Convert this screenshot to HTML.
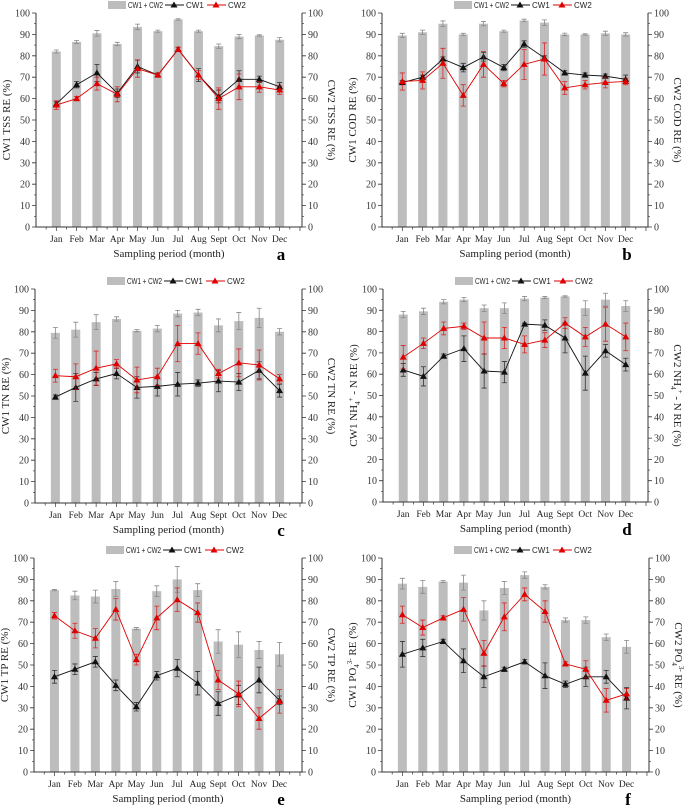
<!DOCTYPE html>
<html><head><meta charset="utf-8"><style>
html,body{margin:0;padding:0;background:#fff;}
svg{display:block;}
text{font-family:"Liberation Serif",serif;}
.lg{font-family:"Liberation Sans",sans-serif;font-size:8px;}
</style></head><body>
<svg id="fig" width="685" height="806" viewBox="0 0 685 806" xmlns="http://www.w3.org/2000/svg"></svg>
<script>
const months = ["Jan","Feb","Mar","Apr","May","Jun","Jul","Aug","Sept","Oct","Nov","Dec"];
const yTicks = [0,10,20,30,40,50,60,70,80,90,100];
// panel a TSS
const aBar=[82,86.5,90.5,85.5,93.5,91.5,97,91.5,84.5,89,89.5,87.5];
const aBarErr=[0.7,0.7,1.3,0.8,1.3,0.5,0.3,0.5,1,1,0.3,1];
const aCw1=[57.5,66.5,72,62.5,75,71,83,71,61,69,69,65.5];
const aCw1Err=[1,1.5,4,2,3,1,1,3,3,4,1.5,2];
const aCw2=[57,60,67,62,74,71,83,71,60,65.5,65.5,64];
const aCw2Err=[2,1,3,3.5,4,1,1,2,5,6,2.5,2];
// panel b COD
const bBar=[89.5,91,95,90,95,91.5,96.5,95.5,90,90,90.5,90];
const bBarErr=[1,1,1.3,0.5,1,0.5,0.6,1.3,0.6,0.3,1,0.8];
const bCw1=[67.5,70,78.5,74.5,79.5,74.5,85.5,79,72,71,70.5,69];
const bCw1Err=[1,1,1,2,2,1.5,1.5,1,1,1,1,2];
const bCw2=[68,68.5,76.5,61.5,76,67,76,78.5,65,66.5,67.5,68];
const bCw2Err=[4,4,7,5,6,1.5,7,7.5,3,2,2.5,1.5];
// panel c TN
const cBar=[79.5,81,84.5,86,80.5,81.5,88.5,89,83,85,86.5,80];
const cBarErr=[2.5,3.5,3.5,1,0.5,1.5,1.5,1.5,3,4,4.5,1.5];
const cCw1=[49.5,54,58,60.5,54,54.5,55.5,56,57,56.5,62,52.5];
const cCw1Err=[1,6.5,3,2.5,5,4.5,5.5,1.5,5,4,4,3];
const cCw2=[59.5,59,63,65,57.5,59,74.5,74.5,60.5,65.5,64.5,58];
const cCw2Err=[3,6,8,2,6,4,8.5,5,2,6.5,7,2];
// panel d NH4-N
const dBar=[88,89.5,94,95,91,91,95.5,96,96.5,91,95,92];
const dBarErr=[1.5,1.5,1,1,1.5,2.5,1,0.5,0.3,3.5,3,2.5];
const dCw1=[62,59,68.5,72,61.5,61,83.5,83,77,60.5,71,64.5];
const dCw1Err=[3,4.5,1,6,8,5,0.5,2.5,7,8,3,3];
const dCw2=[68,74.5,81.5,82.5,77,77,74,76,84,77.5,83.5,77.5];
const dCw2Err=[5.5,2.5,3,1.5,7.5,5,4,3.5,2.5,4.5,8,6.5];
// panel e TP
const eBar=[85,82.5,82,85.5,67,84.5,90,85,61,59.5,57,55];
const eBarErr=[0.3,2,3,3.5,0.5,2.5,6,3,5.5,6,4,5.5];
const eCw1=[44.5,48,51.5,40.5,30.5,45,48.5,41.5,32,36,43,33.5];
const eCw1Err=[3,2.5,2.5,2.5,2,2,4,5.5,5.5,4.5,6,2];
const eCw2=[73,66,62.5,76,52.5,72,80.5,74.5,43,36.5,25,33];
const eCw2Err=[1.5,3.5,4.5,5,2.5,5.5,5.5,4.5,4.5,6,5,5.5];
// panel f PO4
const fBar=[88,86.5,89,88.5,75.5,86,92,86.5,71,71,63,58.5];
const fBarErr=[2.5,3,0.5,3.5,4.5,3,1.5,1,1,1.5,1.5,3];
const fCw1=[55,58,61,52,44.5,48,51.5,45,41,44.5,44.5,34.5];
const fCw1Err=[6,4,1,5.5,5,1,1,6,1.5,4.5,3,5];
const fCw2=[73.5,67.5,72,76,55.5,72.5,83,75,50.5,48,33.5,36.5];
const fCw2Err=[4,3.5,1,5.5,6,6.5,3,5,1,4,5.5,2.5];

const panels=[
 {id:'a',L:36,R:302,T:13,B:227,bar:aBar,be:aBarErr,c1:aCw1,e1:aCw1Err,c2:aCw2,e2:aCw2Err,yl:'CW1 TSS RE (%)',yr:'CW2 TSS RE (%)'},
 {id:'b',L:382,R:648,T:13,B:227,bar:bBar,be:bBarErr,c1:bCw1,e1:bCw1Err,c2:bCw2,e2:bCw2Err,yl:'CW1 COD RE (%)',yr:'CW2 COD RE (%)'},
 {id:'c',L:35,R:302,T:289,B:503,bar:cBar,be:cBarErr,c1:cCw1,e1:cCw1Err,c2:cCw2,e2:cCw2Err,yl:'CW1 TN RE (%)',yr:'CW2 TN RE (%)'},
 {id:'d',L:383,R:648,T:289,B:502,bar:dBar,be:dBarErr,c1:dCw1,e1:dCw1Err,c2:dCw2,e2:dCw2Err,yl:'CW1 NH<tspan font-size="7" dy="3">4</tspan><tspan font-size="7" dy="-7">+</tspan><tspan dy="4"> - N RE (%)</tspan>',yr:'CW2 NH<tspan font-size="7" dy="3">4</tspan><tspan font-size="7" dy="-7">+</tspan><tspan dy="4"> - N RE (%)</tspan>'},
 {id:'e',L:34,R:302,T:558,B:772,bar:eBar,be:eBarErr,c1:eCw1,e1:eCw1Err,c2:eCw2,e2:eCw2Err,yl:'CW1 TP RE (%)',yr:'CW2 TP RE (%)'},
 {id:'f',L:382,R:649,T:558,B:772,bar:fBar,be:fBarErr,c1:fCw1,e1:fCw1Err,c2:fCw2,e2:fCw2Err,yl:'CW1 PO<tspan font-size="7" dy="3">4</tspan><tspan font-size="7" dy="-7">3-</tspan><tspan dy="4"> RE (%)</tspan>',yr:'CW2 PO<tspan font-size="7" dy="3">4</tspan><tspan font-size="7" dy="-7">3-</tspan><tspan dy="4"> RE (%)</tspan>'}
];
const NS='http://www.w3.org/2000/svg';
const svg=document.getElementById('fig');
function mk(tag,attrs,parent,html){const e=document.createElementNS(NS,tag);for(const k in attrs)e.setAttribute(k,attrs[k]);if(html!==undefined)e.innerHTML=html;parent.appendChild(e);return e;}
function tri(x,y,col,g){return mk('polygon',{points:`${x},${y-3.5} ${x-3.5},${y+2.5} ${x+3.5},${y+2.5}`,fill:col},g);}
panels.forEach(p=>{
 const g=mk('g',{},svg);
 
 
 const sx=i=>p.L+(i+1)*(p.R-p.L)/13.1;
 const sy=v=>p.B-v*(p.B-p.T)/100;
 p.bar.forEach((v,i)=>{
  const r=mk('rect',{x:sx(i)-4.5,y:sy(v),width:9,height:p.B-sy(v),fill:'#bdbdbd'},g);
  
  
  const x=sx(i);
  mk('path',{d:`M${x},${sy(v+p.be[i])}V${sy(v-p.be[i])}M${x-2.5},${sy(v+p.be[i])}H${x+2.5}M${x-2.5},${sy(v-p.be[i])}H${x+2.5}`,stroke:'#888','stroke-width':0.8,fill:'none'},g);
 });
 [[p.c1,p.e1,'#111','cw1'],[p.c2,p.e2,'#e00000','cw2']].forEach(([vals,errs,col,nm])=>{
  const pl=mk('polyline',{points:vals.map((v,i)=>sx(i)+','+sy(v)).join(' '),fill:'none',stroke:col,'stroke-width':0.9},g);
  
  
  vals.forEach((v,i)=>{
   const x=sx(i);
   mk('path',{d:`M${x},${sy(v+errs[i])}V${sy(v-errs[i])}M${x-2.5},${sy(v+errs[i])}H${x+2.5}M${x-2.5},${sy(v-errs[i])}H${x+2.5}`,stroke:col,'stroke-width':0.8,fill:'none',opacity:0.8},g);
   const t=tri(x,sy(v),col,g);
   
   
  });
 });
 mk('path',{d:`M${p.L},${p.T}V${p.B}H${p.R}V${p.T}`,stroke:'#333','stroke-width':1,fill:'none'},g);
 yTicks.forEach(t=>{
  const y=sy(t);
  mk('path',{d:`M${p.L-4},${y}H${p.L}M${p.R},${y}H${p.R+4}`,stroke:'#333','stroke-width':0.8},g);
  if(t<100) mk('path',{d:`M${p.L-2},${sy(t+5)}H${p.L}M${p.R},${sy(t+5)}H${p.R+2}`,stroke:'#333','stroke-width':0.6},g);
  const a=mk('text',{x:p.L-6,y:y+3.5,'font-size':10,'text-anchor':'end',fill:'#333'},g,t);
  
  const b=mk('text',{x:p.R+6,y:y+3.5,'font-size':10,'text-anchor':'start',fill:'#333'},g,t);
  
 });
 for(let k=-1;k<=24;k++){
  const x=sx(k/2);
  if(x<p.L-0.5||x>p.R+0.5)continue;
  mk('path',{d:`M${x},${p.B}V${p.B+(k%2==0?4:2.5)}`,stroke:'#333','stroke-width':0.7},g);
 }
 months.forEach((m,i)=>{
  const t=mk('text',{x:sx(i),y:p.B+15,'font-size':9.5,'text-anchor':'middle',fill:'#222'},g,m);
  
 });
 const xt=mk('text',{x:(p.L+p.R)/2,y:p.B+30,'font-size':11,'text-anchor':'middle',fill:'#222'},g,'Sampling period (month)');
 
 const ylx=p.L-26, yly=(p.T+p.B)/2;
 const yl=mk('text',{x:ylx,y:yly,'font-size':11,'text-anchor':'middle',fill:'#222',transform:`rotate(-90 ${ylx} ${yly})`},g,p.yl);
 
 const yrx=p.R+26;
 const yr=mk('text',{x:yrx,y:yly,'font-size':11,'text-anchor':'middle',fill:'#222',transform:`rotate(90 ${yrx} ${yly})`},g,p.yr);
 
 const lt=mk('text',{x:p.R-21,y:p.B+33,'font-size':17,'font-weight':'bold','text-anchor':'middle',fill:'#000'},g,p.id);
 
 const lg=mk('g',{},g);
 
 const lx=p.L+72, ly=p.T-8;
 mk('rect',{x:lx,y:ly-4,width:18,height:8,fill:'#bdbdbd'},lg);
 mk('text',{x:lx+20,y:ly+3,class:'lg',fill:'#222',textLength:35,lengthAdjust:'spacingAndGlyphs'},lg,'CW1 + CW2');
 mk('line',{x1:lx+57,y1:ly,x2:lx+76,y2:ly,stroke:'#111','stroke-width':0.9},lg);
 tri(lx+66,ly,'#111',lg);
 mk('text',{x:lx+78,y:ly+3,class:'lg',fill:'#222'},lg,'CW1');
 mk('line',{x1:lx+99,y1:ly,x2:lx+118,y2:ly,stroke:'#e00000','stroke-width':0.9},lg);
 tri(lx+108,ly,'#e00000',lg);
 mk('text',{x:lx+120,y:ly+3,class:'lg',fill:'#222'},lg,'CW2');
});
</script>
</body></html>
